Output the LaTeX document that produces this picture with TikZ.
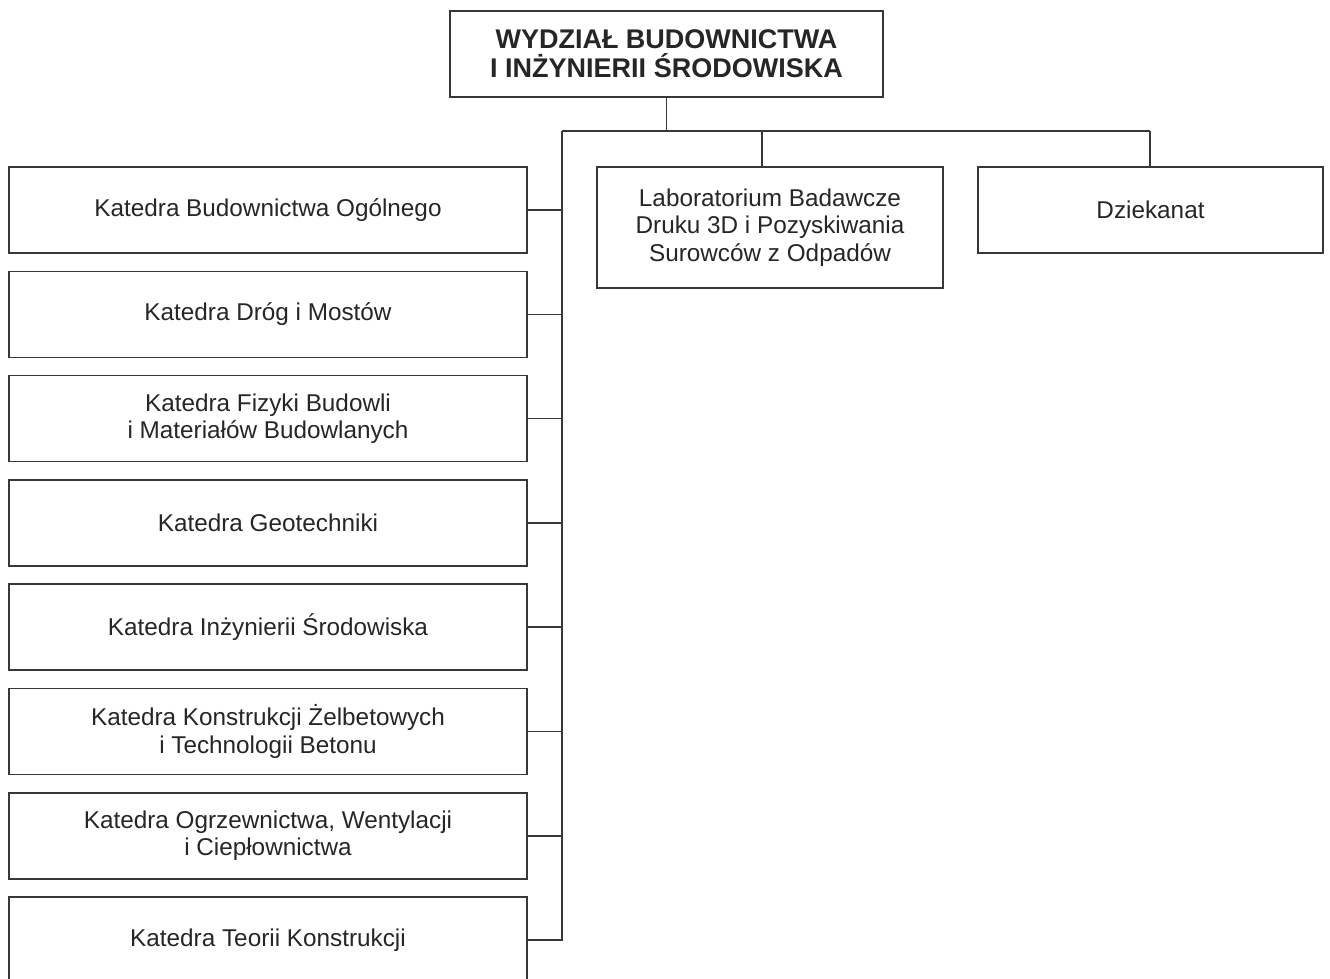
\documentclass[tikz,border=0pt]{standalone}
\usepackage{fontspec}
\setmainfont{Liberation Sans}
\begin{document}
\begin{tikzpicture}[x=1pt,y=-1pt,
  box/.style={draw=black!78, line width=1.5pt, inner sep=0pt, outer sep=0pt, align=center, text=black!85},
  leftbox/.style={box, minimum width=518pt, minimum height=86pt, font=\fontsize{24.3}{27.5}\selectfont},
  title/.style={box, minimum width=433pt, minimum height=86pt, font=\fontsize{27}{29}\selectfont\bfseries},
  conn/.style={draw=black!78, line width=1.5pt}]
\useasboundingbox (0,0) rectangle (1330,978);
\clip (0,0) rectangle (1330,978);
\fill[white] (0,0) rectangle (1330,978);

\node[title] (top) at (666.5,54) {WYDZIAŁ BUDOWNICTWA\\I INŻYNIERII ŚRODOWISKA};

\node[leftbox] (k1) at (268,210) {Katedra Budownictwa Ogólnego};
\node[leftbox] (k2) at (268,314.3) {Katedra Dróg i Mostów};
\node[leftbox] (k3) at (268,418.6) {Katedra Fizyki Budowli\\i Materiałów Budowlanych};
\node[leftbox] (k4) at (268,522.9) {Katedra Geotechniki};
\node[leftbox] (k5) at (268,627.2) {Katedra Inżynierii Środowiska};
\node[leftbox] (k6) at (268,731.5) {Katedra Konstrukcji Żelbetowych\\i Technologii Betonu};
\node[leftbox] (k7) at (268,835.8) {Katedra Ogrzewnictwa, Wentylacji\\i Ciepłownictwa};
\node[leftbox] (k8) at (268,940.1) {Katedra Teorii Konstrukcji};

\node[box, minimum width=346pt, minimum height=121pt, font=\fontsize{24.3}{27.5}\selectfont] (lab) at (770,227.5)
  {Laboratorium Badawcze\\Druku 3D i Pozyskiwania\\Surowców z Odpadów};
\node[box, minimum width=345pt, minimum height=86pt, font=\fontsize{24.3}{27.5}\selectfont] (dz) at (1150.5,210)
  {Dziekanat};

\coordinate (bus) at (666.5,131);
\coordinate (busL) at (562,131);
\coordinate (busM) at (762,131);
\coordinate (busR) at (1150,131);

\draw[conn] (top.south) -- (bus);
\draw[conn] (busL) -- (busR);
\draw[conn] (busM) -- (busM |- lab.north);
\draw[conn] (busR) -- (busR |- dz.north);
\draw[conn] (busL) -- (busL |- k8.east) -- (k8.east);
\foreach \k in {k1,k2,k3,k4,k5,k6,k7}{
  \draw[conn] (\k.east) -- (busL |- \k.east);
}
\end{tikzpicture}
\end{document}
